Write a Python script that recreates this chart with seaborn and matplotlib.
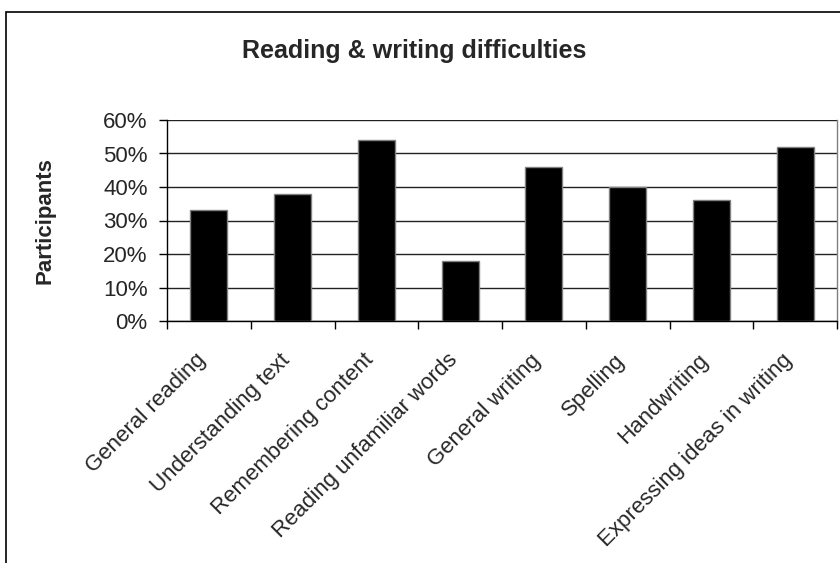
import matplotlib
matplotlib.use("Agg")
import matplotlib.pyplot as plt
from matplotlib.patches import Rectangle
from matplotlib.ticker import PercentFormatter, FixedLocator
from matplotlib.transforms import ScaledTranslation
import seaborn as sns
import pandas as pd

categories = [
    "General reading",
    "Understanding text",
    "Remembering content",
    "Reading unfamiliar words",
    "General writing",
    "Spelling",
    "Handwriting",
    "Expressing ideas in writing",
]
participants_pct = [33, 38, 54, 18, 46, 40, 36, 52]
y_ticks = [0, 10, 20, 30, 40, 50, 60]

df = pd.DataFrame({"Difficulty": categories, "Participants": participants_pct})

sns.set_theme(style="white")
plt.rcParams["font.family"] = ["Liberation Sans", "DejaVu Sans"]

fig = plt.figure(figsize=(8.4, 5.63), dpi=100)
fig.patch.set_facecolor("white")

# outer chart frame
fig.patches.append(Rectangle((6 / 840, -0.1), 1.2, 1 - 12 / 563 + 0.1,
                             transform=fig.transFigure, fill=False,
                             edgecolor="black", linewidth=1.2, zorder=0))

ax = fig.add_axes([167 / 840, 1 - 321 / 563, (837 - 167) / 840, (321 - 120) / 563])

sns.barplot(data=df, x="Difficulty", y="Participants", ax=ax,
            color="black", width=0.44, edgecolor="#808080", linewidth=1,
            saturation=1, zorder=3)

ax.set_xlim(-0.5, len(categories) - 0.5)
ax.set_ylim(0, 60)
ax.set_yticks(y_ticks)
ax.yaxis.set_major_formatter(PercentFormatter(decimals=0))
ax.grid(axis="y", color="#222222", linewidth=1, zorder=0)
ax.set_axisbelow(True)

for side in ["left", "bottom"]:
    ax.spines[side].set_color("black")
    ax.spines[side].set_linewidth(1)
ax.spines["right"].set_color("#808080")
ax.spines["right"].set_linewidth(1)
ax.spines["top"].set_visible(False)

# tick marks between categories, labels centred under bars
ax.xaxis.set_minor_locator(FixedLocator([i - 0.5 for i in range(len(categories) + 1)]))
ax.tick_params(axis="x", which="minor", direction="out", length=6, width=1, color="black", bottom=True)
ax.tick_params(axis="x", which="major", length=0, pad=26, labelsize=16)
ax.tick_params(axis="y", which="major", direction="out", length=6, width=1, color="black",
               left=True, pad=8, labelsize=16)
ax.set_xticks(range(len(categories)))
ax.set_xticklabels(categories, rotation=45, ha="right", va="center", rotation_mode="anchor")
shift = ScaledTranslation(-6 / 100, 0, fig.dpi_scale_trans)
for lbl in ax.get_xticklabels():
    lbl.set_transform(lbl.get_transform() + shift)

ax.set_xlabel("")
ax.set_ylabel("Participants", fontsize=16, fontweight="bold")
ax.yaxis.set_label_coords(-0.167, 0.5)

fig.text(0.493, 1 - 51 / 563, "Reading & writing difficulties", ha="center", va="center",
         fontsize=18, fontweight="bold")

fig.savefig("out.png", dpi=100, facecolor="white")
